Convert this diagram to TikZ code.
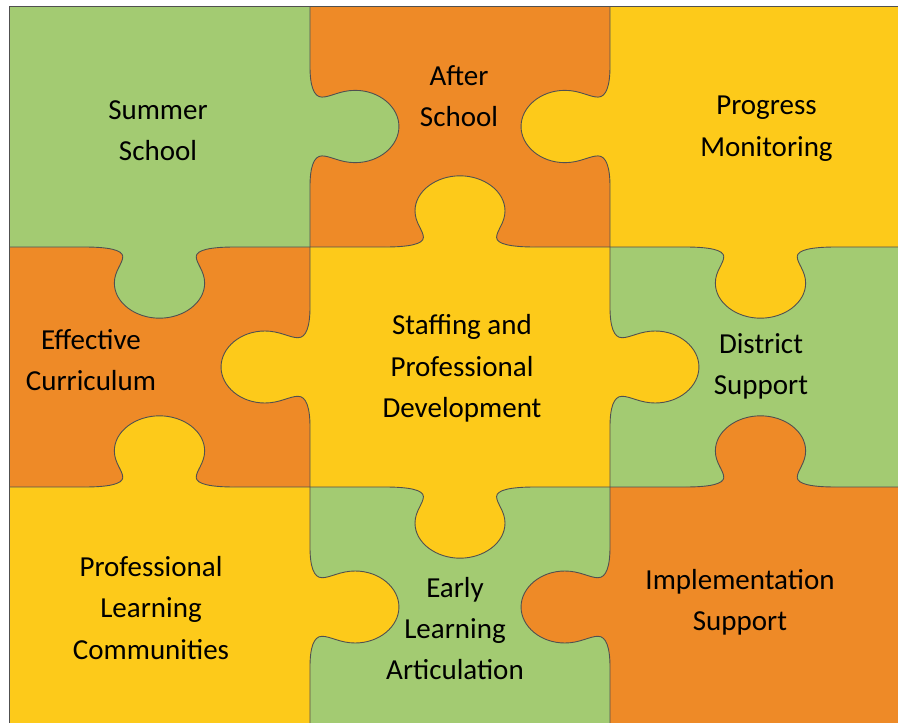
\documentclass[tikz,border=0pt]{standalone}
\usepackage{fontspec}
\setmainfont{Carlito}
\definecolor{pgreen}{HTML}{A3CB72}
\definecolor{porange}{HTML}{EE8A27}
\definecolor{pyellow}{HTML}{FDCA1A}
\definecolor{pline}{HTML}{505050}
\newcommand{\tabshape}{(0,0) -- (0.25,0) .. controls (0.33,0) and (0.378,0.012) .. (0.378,0.04) .. controls (0.378,0.068) and (0.35,0.10) .. (0.35,0.15) .. controls (0.35,0.232) and (0.42,0.296) .. (0.5,0.296) .. controls (0.58,0.296) and (0.65,0.232) .. (0.65,0.15) .. controls (0.65,0.10) and (0.622,0.068) .. (0.622,0.04) .. controls (0.622,0.012) and (0.67,0) .. (0.75,0) -- (1,0)}
\newcommand{\puzzletab}[4]{%
  \begin{scope}[shift={#1}, x={#2}, y={#3}]
    \fill[#4] \tabshape -- cycle;
    \draw[edgeline] \tabshape;
  \end{scope}}
\begin{document}
\begin{tikzpicture}[x=1pt,y=1pt,
  edgeline/.style={draw=pline, line width=0.9pt},
  lbl/.style={font=\fontsize{29}{41.3}\selectfont, align=center, inner sep=0pt, text=black}]
\useasboundingbox (0,0) rectangle (898,-723);
\clip (0,0) rectangle (898,-723);
\fill[white] (0,0) rectangle (898,-723);
% cells
\fill[pgreen]  (9,-6)    rectangle (310,-247);
\fill[porange] (310,-6)  rectangle (610,-247);
\fill[pyellow] (610,-6)  rectangle (911,-247);
\fill[porange] (9,-247)  rectangle (310,-487);
\fill[pyellow] (310,-247) rectangle (610,-487);
\fill[pgreen]  (610,-247) rectangle (911,-487);
\fill[pyellow] (9,-487)  rectangle (310,-728);
\fill[pgreen]  (310,-487) rectangle (610,-728);
\fill[porange] (610,-487) rectangle (911,-728);
% tabs
\puzzletab{(310pt,-6pt)}{(0pt,-241pt)}{(300.5pt,0pt)}{pgreen}
\puzzletab{(610pt,-6pt)}{(0pt,-241pt)}{(-300.5pt,0pt)}{pyellow}
\puzzletab{(9pt,-247pt)}{(301pt,0pt)}{(0pt,-240.5pt)}{pgreen}
\puzzletab{(310pt,-247pt)}{(300pt,0pt)}{(0pt,240.5pt)}{pyellow}
\puzzletab{(610pt,-247pt)}{(301pt,0pt)}{(0pt,-240.5pt)}{pyellow}
\puzzletab{(310pt,-247pt)}{(0pt,-240pt)}{(-300.5pt,0pt)}{pyellow}
\puzzletab{(610pt,-247pt)}{(0pt,-240pt)}{(300.5pt,0pt)}{pyellow}
\puzzletab{(9pt,-487pt)}{(301pt,0pt)}{(0pt,240.5pt)}{pyellow}
\puzzletab{(310pt,-487pt)}{(300pt,0pt)}{(0pt,-240.5pt)}{pyellow}
\puzzletab{(610pt,-487pt)}{(301pt,0pt)}{(0pt,240.5pt)}{porange}
\puzzletab{(310pt,-487pt)}{(0pt,-240pt)}{(300.5pt,0pt)}{pyellow}
\puzzletab{(610pt,-487pt)}{(0pt,-240pt)}{(-300.5pt,0pt)}{porange}
% outer frame
\draw[edgeline] (898,-6) -- (9,-6) -- (9,-723);
% labels
\node[lbl] (summer) at (158,-131.9) {\strut Summer\\\strut School};
\node[lbl] (after) at (459,-97.5) {\strut After\\\strut School};
\node[lbl] (progress) at (766.5,-127.2) {\strut Progress\\\strut Monitoring};
\node[lbl] (curriculum) at (91,-361.7) {\strut Effective\\\strut Curriculum};
\node[lbl] (staffing) at (462,-367.9) {\strut Staffing and\\\strut Professional\\\strut Development};
\node[lbl] (district) at (761,-365.5) {\strut District\\\strut Support};
\node[lbl] (plc) at (151,-609.7) {\strut Professional\\\strut Learning\\\strut Communities};
\node[lbl] (early) at (455,-630.2) {\strut Early\\\strut Learning\\\strut Articulation};
\node[lbl] (implementation) at (740,-601.7) {\strut Implementation\\\strut Support};
\end{tikzpicture}
\end{document}
